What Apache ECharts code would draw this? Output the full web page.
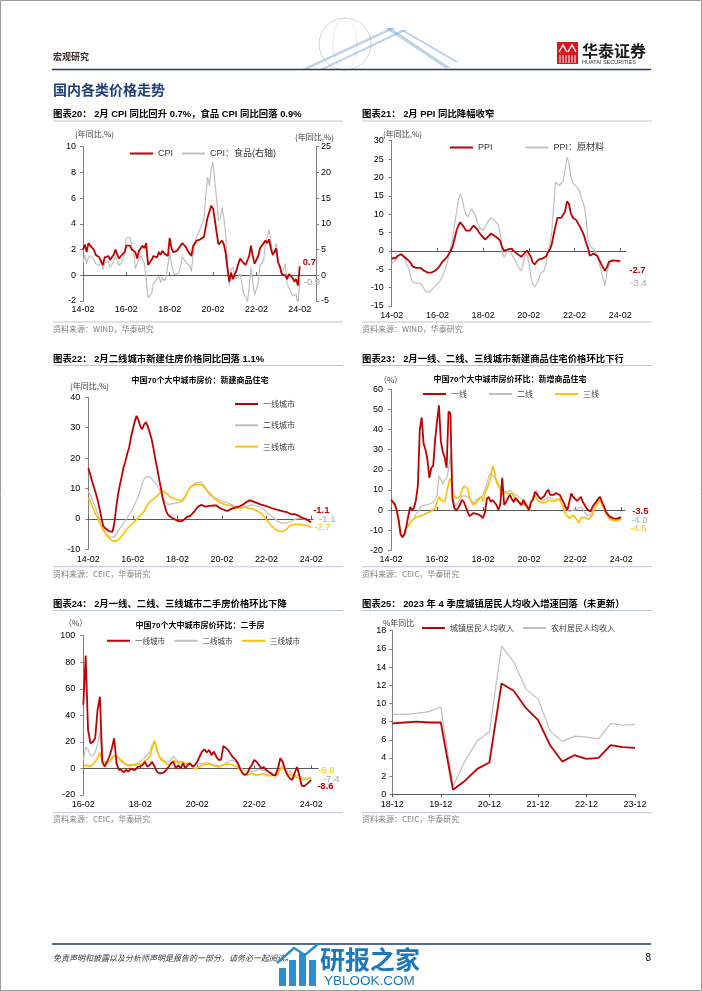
<!DOCTYPE html>
<html><head><meta charset="utf-8">
<script src="https://cdn.jsdelivr.net/npm/echarts@6/dist/echarts.min.js"></script>
<style>html,body{margin:0;padding:0;background:#fff}#c{width:702px;height:991px}</style>
</head><body><div id="c"></div>
<script>
// ---------------- DATA ----------------
// 图表20: CPI yoy and food CPI yoy, monthly 2014-02 .. 2024-02
const cpi = [
2.0,2.4,1.8,2.5,2.3,2.3,2.0,1.6,1.6,1.4,1.5,
0.8,1.4,1.4,1.5,1.2,1.4,1.6,2.0,1.6,1.3,1.5,1.6,
1.8,2.3,2.3,2.3,2.0,1.9,1.8,1.3,1.9,2.1,2.3,2.1,
2.5,0.8,0.9,1.2,1.5,1.5,1.4,1.8,1.6,1.9,1.7,1.8,
1.5,2.9,2.1,1.8,1.8,1.9,2.1,2.3,2.5,2.5,2.2,1.9,
1.7,1.5,2.3,2.5,2.7,2.7,2.8,2.8,3.0,3.8,4.5,4.5,
5.4,5.2,4.3,3.3,2.4,2.5,2.7,2.4,1.7,0.5,-0.5,0.2,
-0.3,-0.2,0.4,0.9,1.3,1.1,1.0,0.8,0.7,1.5,2.3,1.5,
0.9,0.9,1.5,2.1,2.1,2.5,2.7,2.5,2.8,2.1,1.6,1.8,
2.1,1.0,0.7,0.1,0.2,0.0,-0.3,0.1,0.0,-0.2,-0.5,-0.3,
-0.8,0.7];
const cpiFood = [
2.4,3.9,2.3,3.6,3.7,3.6,3.0,2.3,2.2,1.8,2.9,
1.1,2.4,2.3,2.7,1.6,2.1,2.7,3.7,2.7,1.9,2.3,2.7,
4.1,7.3,7.6,7.4,5.9,4.6,1.3,1.3,3.2,3.8,4.0,2.4,
2.7,-4.3,-4.4,-3.5,-1.6,-1.2,-1.1,-0.2,-1.4,-0.4,-1.1,-0.4,
-0.5,4.4,2.1,0.7,0.1,0.3,0.5,1.7,3.6,3.3,2.5,2.5,
1.9,0.7,4.1,6.1,7.7,8.3,9.1,10.0,11.2,15.5,19.1,17.4,
20.6,21.9,18.3,14.8,10.6,11.1,13.2,11.2,7.9,2.2,-2.0,1.2,
1.6,-0.2,-0.7,-0.7,0.3,-1.7,-3.7,-4.1,-5.2,-2.4,1.6,-1.2,
-3.8,-3.9,-1.5,1.9,2.3,2.9,6.3,6.1,8.8,7.0,3.7,4.8,
6.2,2.6,2.4,0.4,1.0,2.3,-1.7,-1.7,-3.2,-4.0,-4.2,-3.7,
-5.9,-0.9];
// 图表21: PPI yoy and PPI raw materials yoy, monthly 2014-02 .. 2024-02
const ppi = [
-2.0,-2.3,-2.0,-1.4,-1.1,-0.9,-1.2,-1.8,-2.2,-2.7,-3.3,
-4.3,-4.8,-4.6,-4.6,-4.6,-4.8,-5.4,-5.9,-5.9,-5.9,-5.9,-5.9,
-5.3,-4.9,-4.3,-3.4,-2.8,-2.6,-1.7,-0.8,0.1,1.2,3.3,5.5,
6.9,7.8,7.6,6.4,5.5,5.5,5.5,6.3,6.9,6.9,5.8,4.9,
4.3,3.7,3.1,3.4,4.1,4.7,4.6,4.1,3.6,3.3,2.7,0.9,
0.1,0.1,0.4,0.9,0.6,0.0,-0.3,-0.8,-1.2,-1.6,-1.4,-0.5,
0.1,-0.4,-1.5,-3.1,-3.7,-3.0,-2.4,-2.0,-2.1,-2.1,-1.5,-0.4,
0.3,1.7,4.4,6.8,9.0,8.8,9.0,9.5,10.7,13.5,12.9,10.3,
9.1,8.8,8.3,8.0,6.4,6.1,4.2,2.3,0.9,-1.3,-1.3,-0.7,
-0.8,-1.4,-2.5,-3.6,-4.6,-5.4,-4.4,-3.0,-2.5,-2.6,-3.0,-2.7,
-2.5,-2.7];
const ppiRaw = [
-3.5,-3.2,-2.5,-1.8,-1.3,-0.8,-1.2,-2.2,-3.8,-4.9,-7,-8.5,
-9,-8.8,-8.5,-8.8,-9.4,-10.3,-11,-11.4,-11.2,-10.8,-10,-9.4,
-9.2,-8.5,-7.6,-6.5,-5.2,-3.5,-1.5,1,3.3,7,10.5,14,
15.5,14.2,11.5,10,9.2,10.5,11.5,12,9.6,7.8,6.5,6,
5.5,6,7.5,8.3,9,8.6,8.3,7.8,7,4.6,-0.4,-1.7,
-0.8,0.3,0.5,-0.8,-2,-2.8,-4,-4.8,-5.4,-3.5,-1.5,-0.8,
-3.1,-7,-9,-9.9,-9,-8,-6.3,-5.8,-5.4,-3.5,-0.5,1.5,
5,12,18.7,18.3,17.8,17.8,19,22,25.5,24,20.5,18.5,
18.2,17.5,16.9,15.5,15,12.3,9,3.5,1.5,1,0.5,-0.5,
-1.5,-3.5,-5.5,-7.6,-9.4,-6,-4,-3,-2.6,-2.5,-2.4,-3,
-3.4];
// 图表22: new home price yoy, tier 1/2/3, monthly 2014-02 .. 2024-02
const newYoyT1 = [
16.7,14.8,12.5,10.5,8.5,6.3,3.5,0.5,-2.3,-3,-3.5,-4,
-4.5,-4.3,-1.5,3.5,8,11.2,14,17,19,21.5,23.5,27,
29.5,32,33.9,32.5,30.5,29.5,31,31.8,30.5,28.5,26.5,23.5,
20,17,13.5,10.5,7,4.6,2.5,1.3,0.8,0.4,0.2,-0.3,
-0.5,-0.8,-1.1,-0.6,0,0.6,1,1.1,1.5,2.4,3.2,4,
4.5,4.6,4.2,4,4,4.3,4.6,4.4,4,4.4,4,3.5,
3.2,3,2.8,2.6,3,3.3,3.6,3.7,3.8,4,4.3,4.6,
5,5.5,5.9,6.1,5.9,5.7,5.5,5.2,4.8,4.7,4.6,4.4,
4.4,4,3.8,3.5,3.3,3.1,3,2.8,2.6,2.5,2.3,2.2,
1.9,1.6,1.6,1.6,1.3,1.1,0.7,0.4,0.2,0,-0.3,-0.7,
-1.1];
const newYoyT2 = [
9,8,6.5,5,3.5,1.8,0,-2,-3.3,-4.2,-5,-5.6,
-6,-6.4,-6,-5,-4,-3.1,-2.3,-1.3,-0.5,0.5,1.3,2.3,
3.5,4.8,6,7.8,9.3,11.5,13,13.8,14.1,13.9,13.4,12.5,
11.8,11,10,8.6,7,6,5,4.6,4.8,5,5.1,5.2,
5.3,5.4,5.5,6,6.8,8.3,9.5,10.6,11.2,11.5,11.7,12,
12.3,12,11.3,10.5,9.5,8.8,8.1,7.5,7,6.7,6.3,6,
5.8,5.6,5.5,5.3,5,4.8,4.5,4.1,4,3.8,3.7,3.8,
4,4,4.3,4.5,4.6,4.5,4.4,4.2,4,3.7,3.4,2.8,
2.3,1.8,1.2,0.7,0.2,-0.3,-0.8,-1.2,-1.4,-1.5,-1.4,-1.3,
-1.1,-0.9,-0.6,-0.3,0,0.1,0.2,0.1,0,-0.3,-0.5,-0.8,
-1.1];
const newYoyT3 = [
6.8,5.8,4.3,3,1.5,0.5,-1.2,-2.5,-3.7,-4.7,-5.5,-6.2,
-6.8,-7.3,-7.5,-7.3,-6.9,-6.4,-5.6,-4.8,-4,-3.2,-2.6,-2,
-1.5,-1,-0.4,0.5,1.2,1.8,2.4,3.5,4.8,5.5,5.9,6.5,
7,7.5,8.2,8.8,9.2,9.5,8.5,7.9,7.2,6.8,6.7,6.6,
6.4,6.2,5.9,6.5,7.3,8.5,9.5,10.5,11,11.1,11.2,11.3,
11.4,11.2,10.7,10,9.2,8.4,7.8,7.2,6.6,6.2,5.8,5.3,
5.1,4.9,4.6,4.5,4.4,4.4,4,3.6,3.5,3.6,3.7,3.7,
3.7,3.7,3.6,3.5,3.4,3.2,3,2.5,2.1,1.9,1.3,0.5,
-0.2,-1,-1.8,-2.5,-3.1,-3.6,-3.9,-4.1,-4.2,-4.1,-3.9,-3.3,
-2.5,-2.1,-1.9,-1.8,-1.8,-1.8,-1.8,-1.9,-2,-2,-2.2,-2.4,
-2.7];
// 图表23: new home price mom (annualised), tier 1/2/3, monthly 2014-02 .. 2024-02
const newMomT1 = [
5,4.5,3,0,-5,-12,-13.5,-12,-8,-3,1.5,0,
1,5,12,40,46,33,30,25,16,21,22,35,
44,52,34,29,26,21,49,48,6,1,0,1,
3,5,4,1.5,-1,-3,-3.3,-1.5,-1,-2,-2.5,-3,
-4,-1,5.5,6.5,4,5,5,2.5,0,3,16,2.5,
4,6,7.5,5.5,4,6,5.8,3.5,2.5,5,3,1.7,
0,4,5,9,8,6.6,5.5,5,7,9,10,7.5,
6.6,7.5,8.5,9,7.5,5.5,4,1.5,0,0,8.3,6.5,
5.8,4.5,4,6.6,4,2.5,0.8,0,-0.8,1.5,3,4.1,
5.5,6.6,4,2,-0.8,0,-3.3,-3.5,-4.1,-4.6,-4.3,-3.6,
-3.5];
const newMomT2 = [
5,4.5,3,0,-5,-12,-13,-12,-9,-7,-6,-5,
-4,-2,-1,1,2,2.5,2.5,2,3,3.3,4,5.5,
7,17,15,13,15,16,20,28,8,3,2,4,
5.5,7,7.5,7,6.6,6,4.5,3.3,4.5,5.5,5.8,6.5,
7.5,8.3,13,17,18.3,17.4,16,15,13,11.6,10,9,
8.3,9,10,9,8,7.5,7,6,5.5,5,4,3,
0.8,3.5,6,8,10,7.5,5.8,4.5,4.5,5.5,6.6,6,
5.5,5,5.5,5.8,5,3.3,2,0.8,0,-0.8,-0.5,0,
0,0.3,1,1.7,0.5,-1,-2.5,-2.5,-2.5,-1,1,4,
6.6,5,2.5,1,-0.8,-2,-3,-4,-4.6,-5,-5,-4.5,
-4.0];
const newMomT3 = [
5,4,2,-1,-6,-12,-13,-11.5,-9,-8,-6.6,-5,
-4.1,-3.7,-3.3,-3,-2.8,-2.5,-2,-1.5,-0.8,-0.5,0,1,
4,6.6,5,4.5,4.1,8.3,13.3,15.8,10,7,5.8,6,
6.6,10,12,11.5,10.8,6,4,2.5,3,4.1,5.5,6.6,
4.1,8.3,10.5,13,16.6,22,19,14,13.3,10,7.5,8,
9,8,7.5,8.3,7,5.8,5,4.1,3.5,3,2.5,1,
0,4,6,7.5,5.5,4.5,4.1,3.5,3.3,4,5,5,
4.5,4.1,4.5,5.3,5.8,3,0.8,-2,-3,-4.1,-3.5,-2.5,
-3.5,-4.1,-6.3,-4,-3.6,-3.6,-4,-4.6,-3.5,-2.5,0,2.5,
4,5,2.5,0.8,-1.5,-3.3,-4.3,-4.6,-5.3,-5.3,-5,-4.8,
-4.5];
// 图表24: second-hand home price mom (annualised), tier 1/2/3, monthly 2016-02 .. 2024-02
const usedT1 = [
48,85,29,19,20,22.7,44,54,5,1.4,5,9,
15,22.7,4,-1,-1,-3,-1,-2.4,0,-1,-1,1.4,
1.4,2.6,5,1.4,2.6,5,1.4,-2.4,-3.6,-3.6,-3,-1,
1.4,4,5,0,2.6,0,4,0,2.6,4,1.4,2.6,
5,9,12.7,14.4,12,14,10,12.7,9,6.4,6.4,17,
15.5,14,11,8.4,7,4.5,0,-3.5,-5,-4,0,2.6,
6.4,5,2.6,0,1,-1,-2.4,-3.6,-5,-5,0,7.7,
5,-1,-5,-7.4,-8.7,-3.6,1,-5,-13,-13.5,-12,-10.5,
-8.6];
const usedT2 = [
6,16,14,10,9.5,12,18,28,6,4,4,5,
8,9.5,9,7.5,5,3.5,3,3,3,2.5,3.5,4,
5,7,8.5,10,13,18,20,13,9,7.5,6,5,
5,7,9,7,5,5,4,3.5,3,2.5,2,2,
3,3.5,4,4,4,4,3.5,2.6,2.3,2,2,3,
4,5,6,6.4,5,3,1,-0.6,-1.5,-2.4,-2.4,-2.4,
-2,-1.5,-1,-1.3,-1.6,-2,-2.4,-3,-4,-4.5,-5,0,
2.6,0,-1.5,-2.4,-4,-5,-5,-5.5,-6.6,-7,-7.4,-7.4,
-7.4];
const usedT3 = [
1,2.5,2,1.5,3,5,8,12,5,5,4.5,5,
7,10,9,8,6,4.5,3,2,2,3,2.5,3.5,
3,4,6,7,9,15,21,15,9,6,5.5,3.5,
2.5,4,6,5.5,4,4.5,5,3.5,4,3,2,-0.6,
0.5,1.5,2.6,2.6,3,3.4,2.5,2,1.5,1,1.8,2.6,
3,3.4,3,2.6,1.8,1,-1,-3,-4,-5,-4.3,-3.6,
-4.3,-5,-4.5,-4.3,-4,-4.8,-5.6,-5.3,-5,-6,-3,-0.6,
0.5,-1.5,-3.6,-4.8,-5.6,-6.2,-6.6,-7.5,-8,-8.6,-8,-7.4,
-6.8];
// 图表25: per-capita disposable income growth (cumulative yoy), quarterly
const incomeQuarters = ['18-12','19-03','19-06','19-09','19-12','20-03','20-06','20-09','20-12','21-03','21-06','21-09','21-12','22-03','22-06','22-09','22-12','23-03','23-06','23-09','23-12'];
const incomeUrban = [7.8,7.9,8.0,7.9,7.9,0.5,1.5,2.8,3.5,12.2,11.4,9.5,8.2,5.4,3.6,4.3,3.9,4.0,5.4,5.2,5.1];
const incomeRural = [8.8,8.8,8.9,9.1,9.6,0.9,3.7,5.9,6.9,16.3,14.6,11.6,10.5,7.0,5.8,6.4,6.3,6.1,7.8,7.6,7.7];

// ---------------- HELPERS ----------------
const FONT_CJK = "'Noto Sans CJK SC', 'Liberation Sans', sans-serif";
const FONT_LAT = "'Liberation Sans', 'Noto Sans CJK SC', sans-serif";
const RED = '#C00000', GRAY = '#BFBFBF', YEL = '#FFC000';

function monthCats(y, m, n) {
  const out = [];
  for (let i = 0; i < n; i++) {
    const yy = y + Math.floor((m - 1 + i) / 12);
    const mm = (m - 1 + i) % 12 + 1;
    out.push(String(yy % 100).padStart(2, '0') + '-' + String(mm).padStart(2, '0'));
  }
  return out;
}
const catCPI = monthCats(2014, 2, 130);
const catPPI = monthCats(2014, 2, 124);
const catNewYoy = monthCats(2014, 2, 122);
const catNewMom = monthCats(2014, 2, 123);
const catUsed = monthCats(2016, 2, 100);

const tickLabel = {fontSize: 9, color: '#000', fontFamily: FONT_LAT};
function xLab(gi, cats, interval, margin) {
  return {gridIndex: gi, type: 'category', data: cats, boundaryGap: false,
    axisLine: {show: false, onZero: false}, axisTick: {show: false},
    axisLabel: Object.assign({interval, margin}, tickLabel), splitLine: {show: false}};
}
function xZero(gi, cats, interval) {
  return {gridIndex: gi, type: 'category', data: cats, boundaryGap: false, position: 'bottom',
    axisLine: {show: true, onZero: true, lineStyle: {color: '#595959', width: 1}},
    axisTick: {show: true, inside: true, length: 3, interval, lineStyle: {color: '#595959'}},
    axisLabel: {show: false}, splitLine: {show: false}};
}
function yVal(gi, min, max, interval, position, margin) {
  return {gridIndex: gi, type: 'value', min, max, interval, position,
    axisLine: {show: true, lineStyle: {color: '#808080'}},
    axisTick: {show: true, length: 3, lineStyle: {color: '#808080'}},
    axisLabel: Object.assign({margin}, tickLabel), splitLine: {show: false}};
}
function ser(name, data, xi, yi, color, width, endLbl) {
  const s = {name, type: 'line', data, xAxisIndex: xi, yAxisIndex: yi, symbol: 'none',
    showSymbol: false, smooth: false, silent: true,
    lineStyle: {color, width}, itemStyle: {color}, emphasis: {disabled: true}};
  if (endLbl) {
    s.endLabel = Object.assign({show: true, formatter: p => Number(p.value).toFixed(1),
      fontSize: 9.5, fontFamily: FONT_LAT, distance: 5}, endLbl);
  }
  return s;
}
function leg(data, left, top, o) {
  return Object.assign({data, left, top, icon: 'rect', itemWidth: 23, itemHeight: 2, itemGap: 10,
    padding: 0, selectedMode: false,
    textStyle: {fontSize: 8, color: '#404040', fontFamily: FONT_CJK}}, o || {});
}

// ---------------- GRAPHIC (page texts) ----------------
const G = [];
function T(x, y, text, o) {
  G.push({type: 'text', x, y, silent: true, style: Object.assign({text, fill: '#000',
    font: '9px ' + FONT_LAT, align: 'left', verticalAlign: 'middle'}, o || {})});
}
function L(x1, y1, x2, y2, stroke, w) {
  G.push({type: 'line', silent: true, shape: {x1, y1, x2, y2}, style: {stroke, lineWidth: w}});
}
// border
G.push({type: 'rect', silent: true, shape: {x: 0.5, y: 0.5, width: 701, height: 990}, style: {fill: 'none', stroke: '#9a9a9a', lineWidth: 1}});
// header decoration
G.push({type: 'circle', silent: true, shape: {cx: 345, cy: 44, r: 26}, style: {fill: 'none', stroke: '#d0d7e0', lineWidth: 1}});
G.push({type: 'ellipse', silent: true, shape: {cx: 345, cy: 44, rx: 12, ry: 26}, style: {fill: 'none', stroke: '#dce2ea', lineWidth: 0.8}});
[[300, 70, 390, 28, 6], [318, 70, 402, 30, 5], [385, 28, 445, 68, 6], [400, 30, 455, 62, 4]].forEach(a => {
  G.push({type: 'polygon', silent: true, shape: {points: [[a[0], a[1]], [a[2], a[3]], [a[2] + a[4], a[3]], [a[0] + a[4], a[1]]]}, style: {fill: 'rgba(110,155,210,0.45)'}});
});
T(53, 57, '宏观研究', {font: 'bold 9px ' + FONT_CJK, fill: '#3b2a2a'});
L(52, 69.5, 651, 69.5, '#1F3864', 1.6);
// logo
G.push({type: 'rect', silent: true, shape: {x: 557, y: 42, width: 21, height: 22}, style: {fill: '#D9161E'}});
G.push({type: 'polyline', silent: true, shape: {points: [[559, 52], [563, 45], [567, 52]]}, style: {stroke: '#fff', lineWidth: 1.4, fill: 'none'}});
G.push({type: 'polyline', silent: true, shape: {points: [[568, 52], [572, 45], [576, 52]]}, style: {stroke: '#fff', lineWidth: 1.4, fill: 'none'}});
[560, 563, 566, 569, 572, 575].forEach(x => L(x, 55, x, 63, '#fff', 1));
T(582, 51, '华泰证券', {font: 'bold 16px ' + FONT_CJK, fill: '#1a1a1a'});
T(582, 62.5, 'HUATAI SECURITIES', {font: '5.5px ' + FONT_LAT, fill: '#333'});
T(53, 90, '国内各类价格走势', {font: 'bold 14px ' + FONT_CJK, fill: '#1F3F7A'});

const titleFont = 'bold 9.4px ' + FONT_LAT;
const lineC = '#A9B7C9';
T(53, 114.5, '图表20： 2月 CPI 同比回升 0.7%，食品 CPI 同比回落 0.9%', {font: titleFont});
T(362, 114.5, '图表21： 2月 PPI 同比降幅收窄', {font: titleFont});
T(53, 359, '图表22： 2月二线城市新建住房价格同比回落 1.1%', {font: titleFont});
T(362, 359, '图表23： 2月一线、二线、三线城市新建商品住宅价格环比下行', {font: titleFont});
T(53, 604, '图表24： 2月一线、二线、三线城市二手房价格环比下降', {font: titleFont});
T(362, 604, '图表25： 2023 年 4 季度城镇居民人均收入增速回落（未更新）', {font: titleFont});
[121, 365.5, 610.5, 322, 566.7, 812.7].forEach(y => { L(53, y, 343, y, lineC, 0.8); L(362, y, 652, y, lineC, 0.8); });
const srcO = {font: '8px ' + FONT_CJK, fill: '#7F7F7F'};
T(53, 329, '资料来源：WIND，华泰研究', srcO);
T(362, 329, '资料来源：WIND，华泰研究', srcO);
T(53, 574, '资料来源：CEIC，华泰研究', srcO);
T(362, 574, '资料来源：CEIC，华泰研究', srcO);
T(53, 819, '资料来源：CEIC，华泰研究', srcO);
T(362, 819, '资料来源：CEIC，华泰研究', srcO);
const axT = {font: '8px ' + FONT_CJK, fill: '#404040'};
T(75, 134, '(年同比,%)', axT);
T(295, 137, '(年同比,%)', axT);
T(383, 134, '(年同比,%)', axT);
T(70, 385.6, '(年同比,%)', axT);
T(379, 380, '（%）', axT);
T(64, 623, '（%）', axT);
T(383, 623, '%年同比', axT);
const subO = {font: 'bold 8px ' + FONT_LAT, align: 'center'};
T(200, 381, '中国70个大中城市房价：新建商品住宅', subO);
T(510, 380, '中国70个大中城市房价环比：新增商品住宅', subO);
T(200, 626, '中国70个大中城市房价环比：二手房', subO);
// footer
L(52, 944, 651, 944, '#1F3864', 1.6);
T(53, 958, '免责声明和披露以及分析师声明是报告的一部分，请务必一起阅读。', {font: 'italic 8px ' + FONT_CJK, fill: '#333'});
T(651, 958, '8', {font: '10px ' + FONT_LAT, align: 'right'});
// watermark
[[279, 968, 7, 18], [289, 960, 7, 26], [299, 953, 7, 33], [309, 960, 7, 26]].forEach(r => {
  G.push({type: 'rect', silent: true, shape: {x: r[0], y: r[1], width: r[2], height: r[3]}, style: {fill: '#2A8FD0'}});
});
G.push({type: 'polyline', silent: true, shape: {points: [[277, 963], [294, 948], [305, 955], [318, 944]]}, style: {stroke: '#2A8FD0', lineWidth: 2.5, fill: 'none'}});
T(320, 959, '研报之家', {font: 'bold 25px ' + FONT_CJK, fill: '#1B78BE'});
T(324, 981, 'YBLOOK.COM', {font: '13.5px ' + FONT_LAT, fill: '#1B78BE'});

// ---------------- OPTION ----------------
const option = {
  animation: false,
  backgroundColor: '#fff',
  grid: [
    {left: 83, top: 146.7, width: 233, height: 154.3},
    {left: 391.7, top: 140.7, width: 234.3, height: 165.3},
    {left: 88.3, top: 397.3, width: 224.7, height: 152},
    {left: 391, top: 389.3, width: 234, height: 161},
    {left: 83.3, top: 635.7, width: 235, height: 159.3},
    {left: 392.3, top: 630.7, width: 242.7, height: 163.6}
  ],
  xAxis: [
    xLab(0, catCPI, 23, 4), xZero(0, catCPI, 23),
    xLab(1, catPPI, 23, 5), xZero(1, catPPI, 23),
    xLab(2, catNewYoy, 23, 6), xZero(2, catNewYoy, 23),
    xLab(3, catNewMom, 23, 5), xZero(3, catNewMom, 23),
    xLab(4, catUsed, 23, 5), xZero(4, catUsed, 23),
    {gridIndex: 5, type: 'category', data: incomeQuarters, boundaryGap: false,
      axisLine: {show: true, onZero: false, lineStyle: {color: '#595959'}},
      axisTick: {show: true, interval: 3, length: 3, lineStyle: {color: '#595959'}},
      axisLabel: Object.assign({interval: 3, margin: 6}, tickLabel), splitLine: {show: false}}
  ],
  yAxis: [
    yVal(0, -2, 10, 2, 'left', 7), yVal(0, -5, 25, 5, 'right', 5),
    yVal(1, -15, 30, 5, 'left', 8),
    yVal(2, -10, 40, 10, 'left', 8),
    yVal(3, -20, 60, 10, 'left', 8),
    yVal(4, -20, 100, 20, 'left', 8),
    yVal(5, 0, 18, 2, 'left', 6)
  ],
  legend: [
    leg(['CPI', 'CPI：食品(右轴)'], 130, 149, {itemGap: 9, textStyle: {fontSize: 9, color: '#333', fontFamily: FONT_LAT}}),
    leg(['PPI', 'PPI：原材料'], 450, 143, {itemGap: 33, textStyle: {fontSize: 9, color: '#333', fontFamily: FONT_LAT}}),
    leg(['一线城市', '二线城市', '三线城市'], 235, 400, {orient: 'vertical', itemGap: 13.3}),
    leg(['一线', '二线', '三线'], 423, 390, {itemGap: 22}),
    leg(['一线城市', '二线城市', '三线城市'], 107, 637, {itemGap: 9.5, textStyle: {fontSize: 7.5, color: '#404040', fontFamily: FONT_CJK}}),
    leg(['城镇居民人均收入', '农村居民人均收入'], 422, 624, {itemGap: 9})
  ],
  graphic: G,
  series: [
    ser('CPI：食品(右轴)', cpiFood, 0, 1, GRAY, 1.2, {color: '#A6A6A6', offset: [-1, 2]}),
    ser('CPI', cpi, 0, 0, RED, 1.8, {color: RED, fontWeight: 'bold', offset: [-2, -4]}),
    ser('PPI：原材料', ppiRaw, 2, 2, GRAY, 1.2, {color: '#A6A6A6', offset: [5, 20]}),
    ser('PPI', ppi, 2, 2, RED, 1.8, {color: RED, fontWeight: 'bold', offset: [4, 10]}),
    ser('二线城市', newYoyT2, 4, 3, GRAY, 1.2, {color: '#A6B0BF', offset: [3, -3]}),
    ser('三线城市', newYoyT3, 4, 3, YEL, 1.6, {color: YEL, offset: [-2, 0]}),
    ser('一线城市', newYoyT1, 4, 3, RED, 1.8, {color: RED, fontWeight: 'bold', offset: [-3, -12]}),
    ser('二线', newMomT2, 6, 4, GRAY, 1.2, {color: '#9AAABF', offset: [5, 2]}),
    ser('三线', newMomT3, 6, 4, YEL, 1.6, {color: YEL, offset: [4, 9.5]}),
    ser('一线', newMomT1, 6, 4, RED, 1.8, {color: RED, fontWeight: 'bold', offset: [6, -6]}),
    ser('二线城市', usedT2, 8, 5, GRAY, 1.2, {color: '#9AAABF', offset: [7, 1]}),
    ser('三线城市', usedT3, 8, 5, YEL, 1.6, {color: YEL, offset: [2, -7]}),
    ser('一线城市', usedT1, 8, 5, RED, 1.8, {color: RED, fontWeight: 'bold', offset: [1, 7]}),
    ser('农村居民人均收入', incomeRural, 10, 6, GRAY, 1.2),
    ser('城镇居民人均收入', incomeUrban, 10, 6, RED, 1.8)
  ]
};
const chart = echarts.init(document.getElementById('c'), null, {renderer: 'canvas'});
chart.setOption(option);
</script></body></html>
